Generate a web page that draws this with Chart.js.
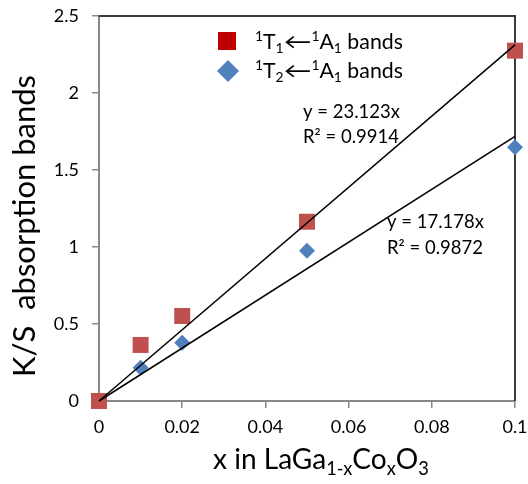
<!DOCTYPE html>
<html>
<head>
<meta charset="utf-8">
<script src="https://cdn.jsdelivr.net/npm/chart.js@4/dist/chart.umd.min.js"></script>
<style>
  html, body { margin: 0; padding: 0; background: #fff; }
  #wrap { width: 528px; height: 484px; position: relative; }
</style>
</head>
<body>
<div id="wrap"><canvas id="c" width="528" height="484"></canvas></div>
<script>
// ---- data ----
const xValues   = [0, 0.01, 0.02, 0.05, 0.1];
const t1Values  = [0, 0.364, 0.552, 1.164, 2.275];   // 1T1<-1A1 bands
const t2Values  = [0, 0.216, 0.379, 0.976, 1.647];   // 1T2<-1A1 bands
const trendSlopes = [23.123, 17.178];
const trendR2     = ['0.9914', '0.9872'];
const trendRange  = [0, 0.1];
const xTickLabels = ['0', '0.02', '0.04', '0.06', '0.08', '0.1'];
const yTickLabels = ['0', '0.5', '1', '1.5', '2', '2.5'];

const FONT = "Lato, 'DejaVu Sans', sans-serif";
const RED = '#C0504D', BLUE = '#4F81BD';

function pts(xs, ys) { return xs.map((x, i) => ({ x: x, y: ys[i] })); }
function trend(slope) { return trendRange.map(x => ({ x: x, y: slope * x })); }

// rich text helpers (sup/sub, optional fixed em-width)
function partFont(p, size) { return (p.s ? size * 0.65 : size) + 'px ' + FONT; }
function partWidth(ctx, p, size) {
  ctx.font = partFont(p, size);
  return p.em ? p.em * size : ctx.measureText(p.t).width;
}
function richWidth(ctx, parts, size) {
  let w = 0;
  parts.forEach(p => { w += partWidth(ctx, p, size); });
  return w;
}
function fitSize(ctx, parts, width) { return 100 * width / richWidth(ctx, parts, 100); }
function drawRich(ctx, parts, x, y, size) {
  ctx.textBaseline = 'alphabetic';
  ctx.textAlign = 'left';
  let cx = x;
  parts.forEach(p => {
    ctx.font = partFont(p, size);
    const dy = p.s === 'sup' ? -0.38 * size : (p.s === 'sub' ? 0.2 * size : 0);
    const w = partWidth(ctx, p, size);
    if (p.em) {
      const nat = ctx.measureText(p.t).width;
      ctx.save();
      ctx.translate(cx, y + dy);
      ctx.scale(w / nat, 1);
      ctx.fillText(p.t, 0, 0);
      ctx.restore();
    } else {
      ctx.fillText(p.t, cx, y + dy);
    }
    cx += w;
  });
}

function noPad(s) { s.paddingLeft = 0; s.paddingRight = 0; s.paddingTop = 0; s.paddingBottom = 0; }

const extras = {
  id: 'extras',
  beforeDatasetsDraw(chart) {
    const ctx = chart.ctx, a = chart.chartArea;
    ctx.save();
    ctx.strokeStyle = '#3a3a3a';
    ctx.lineWidth = 2;
    ctx.beginPath();
    ctx.moveTo(a.left, a.top);
    ctx.lineTo(a.right, a.top);
    ctx.lineTo(a.right, a.bottom);
    ctx.stroke();
    ctx.restore();
  },
  afterDraw(chart) {
    const ctx = chart.ctx;
    ctx.save();
    ctx.fillStyle = '#000';

    // legend
    ctx.fillStyle = '#C00000';
    ctx.fillRect(218, 32, 18, 18);
    ctx.fillStyle = BLUE;
    ctx.beginPath();
    ctx.moveTo(228, 60); ctx.lineTo(239, 71); ctx.lineTo(228, 82); ctx.lineTo(217, 71);
    ctx.closePath(); ctx.fill();
    ctx.fillStyle = '#000';
    const arrow = {t:'\u2190', em: 1.3};
    const leg1 = [{t:'1',s:'sup'},{t:'T'},{t:'1',s:'sub'},arrow,{t:'1',s:'sup'},{t:'A'},{t:'1',s:'sub'},{t:' bands'}];
    const leg2 = [{t:'1',s:'sup'},{t:'T'},{t:'2',s:'sub'},arrow,{t:'1',s:'sup'},{t:'A'},{t:'1',s:'sub'},{t:' bands'}];
    const ls = fitSize(ctx, leg1, 148);
    drawRich(ctx, leg1, 255, 49, ls);
    drawRich(ctx, leg2, 255, 78, ls);

    // trendline labels
    const e1 = [{t:'y = ' + trendSlopes[0] + 'x'}];
    const as = fitSize(ctx, e1, 97);
    drawRich(ctx, e1, 303, 118, as);
    drawRich(ctx, [{t:'R\u00B2 = ' + trendR2[0]}], 303, 143, as);
    drawRich(ctx, [{t:'y = ' + trendSlopes[1] + 'x'}], 387, 228, as);
    drawRich(ctx, [{t:'R\u00B2 = ' + trendR2[1]}], 387, 254, as);

    // x axis title
    const xt = [{t:'x in LaGa'},{t:'1-x',s:'sub'},{t:'Co'},{t:'x',s:'sub'},{t:'O'},{t:'3',s:'sub'}];
    const xs = fitSize(ctx, xt, 216);
    drawRich(ctx, xt, 213, 469, xs);

    // y axis title
    const yt = [{t:'K/S  absorption bands'}];
    const ys = fitSize(ctx, yt, 302);
    ctx.translate(35, 226);
    ctx.rotate(-Math.PI / 2);
    ctx.font = ys + 'px ' + FONT;
    ctx.textAlign = 'center';
    ctx.textBaseline = 'alphabetic';
    ctx.fillText(yt[0].t, 0, 0);
    ctx.restore();
  }
};

new Chart(document.getElementById('c'), {
  type: 'scatter',
  data: {
    datasets: [
      { type: 'line', data: trend(trendSlopes[0]), borderColor: '#000', borderWidth: 1.5, pointRadius: 0, order: 0, fill: false, clip: false },
      { type: 'line', data: trend(trendSlopes[1]), borderColor: '#000', borderWidth: 1.5, pointRadius: 0, order: 0, fill: false, clip: false },
      { label: '1T1<-1A1 bands', data: pts(xValues, t1Values), pointStyle: 'rect', pointRadius: 11.3, pointHoverRadius: 11.3,
        backgroundColor: RED, borderColor: RED, borderWidth: 0, order: 1, clip: false },
      { label: '1T2<-1A1 bands', data: pts(xValues, t2Values), pointStyle: 'rectRot', pointRadius: 8, pointHoverRadius: 8,
        backgroundColor: BLUE, borderColor: BLUE, borderWidth: 0, order: 2, clip: false }
    ]
  },
  options: {
    responsive: false,
    animation: false,
    devicePixelRatio: 1,
    layout: { padding: { top: 16, right: 13, left: 0, bottom: 0 } },
    plugins: { legend: { display: false }, tooltip: { enabled: false } },
    scales: {
      x: {
        type: 'linear', min: 0, max: 0.1,
        afterFit(s) { s.height = 83; noPad(s); },
        afterBuildTicks(s) { s.ticks = xTickLabels.map(v => ({ value: parseFloat(v) })); },
        ticks: { callback: (v, i) => xTickLabels[i], font: { family: FONT, size: 18 }, color: '#000', padding: 8, maxRotation: 0 },
        grid: { drawOnChartArea: false, drawTicks: true, tickLength: 7, color: '#888', lineWidth: 1.5 },
        border: { color: '#888', width: 2 }
      },
      y: {
        type: 'linear', min: 0, max: 2.5,
        afterFit(s) { s.width = 99; noPad(s); },
        afterBuildTicks(s) { s.ticks = yTickLabels.map(v => ({ value: parseFloat(v) })); },
        ticks: { callback: (v, i) => yTickLabels[i], font: { family: FONT, size: 18 }, color: '#000', padding: 13 },
        grid: { drawOnChartArea: false, drawTicks: true, tickLength: 7, color: '#888', lineWidth: 1.5 },
        border: { color: '#888', width: 2 }
      }
    }
  },
  plugins: [extras]
});
</script>
</body>
</html>
